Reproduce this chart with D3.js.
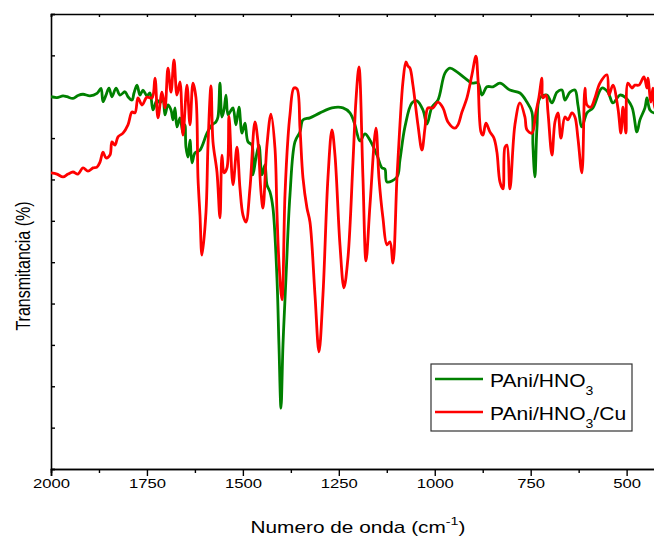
<!DOCTYPE html>
<html>
<head>
<meta charset="utf-8">
<script src="https://cdn.jsdelivr.net/npm/d3@7"></script>
<style>
  body { margin: 0; background: #fff; }
  svg { display: block; }
  text { font-family: "Liberation Sans", Arial, sans-serif; fill: #000; }
</style>
</head>
<body>
<div id="chart"></div>
<script>
// FTIR spectra, wavenumber (cm-1) vs transmittance (arbitrary %)

var xMajorTicks = [2000, 1750, 1500, 1250, 1000, 750, 500];
var xMinorTicks = [1875, 1625, 1375, 1125, 875, 625];
var yTicks = [0, 10, 20, 30, 40, 50, 60, 70, 80, 90, 100, 110];

var seriesNames = ["PAni/HNO", "PAni/HNO"];

// PAni/HNO3
var greenData = [
  [2000, 90.0], [1984.4, 89.8], [1968.7, 90.2], [1958.3, 90.0], [1942.7, 89.6], [1929.7, 90.3],
  [1916.6, 90.6], [1898.4, 90.2], [1880.2, 90.8], [1869.7, 92.0], [1864.5, 88.8], [1856.7, 90.4],
  [1848.9, 92.1], [1841.1, 90.0], [1830.6, 92.1], [1820.2, 90.4], [1807.2, 91.2], [1799.4, 90.0],
  [1788.9, 89.2], [1783.7, 90.9], [1775.9, 92.8], [1768.1, 90.4], [1760.3, 91.6], [1749.9, 90.2],
  [1742.1, 90.9], [1734.2, 86.8], [1723.8, 89.2], [1716.0, 88.5], [1708.2, 89.7], [1703.0, 85.6],
  [1695.2, 88.0], [1687.3, 86.8], [1682.1, 84.4], [1676.9, 87.3], [1671.7, 82.7], [1663.9, 84.9],
  [1656.1, 81.2], [1650.9, 83.2], [1648.3, 77.8], [1643.0, 75.4], [1637.8, 79.5], [1632.6, 74.0],
  [1624.8, 76.4], [1611.8, 77.1], [1593.5, 81.2], [1580.5, 83.2], [1570.1, 83.9], [1564.9, 85.1],
  [1559.7, 93.3], [1554.5, 85.1], [1549.2, 86.8], [1544.0, 90.4], [1538.8, 85.6], [1533.6, 86.3],
  [1525.8, 87.3], [1518.0, 83.2], [1510.2, 87.5], [1502.3, 81.2], [1494.5, 83.6], [1486.7, 79.1],
  [1476.3, 78.3], [1473.7, 71.1], [1465.9, 75.2], [1458.1, 78.3], [1450.2, 71.1], [1442.4, 73.5],
  [1437.2, 68.7], [1429.4, 67.0], [1421.6, 63.1], [1411.2, 46.2], [1406.0, 30.0], [1400.7, 14.7],
  [1395.5, 30.0], [1387.7, 46.2], [1377.3, 66.2], [1364.3, 79.1], [1351.2, 81.5], [1343.4, 84.4],
  [1325.2, 84.9], [1299.1, 86.1], [1267.9, 87.3], [1239.2, 87.3], [1221.0, 86.1], [1207.9, 83.2],
  [1202.7, 81.2], [1194.9, 79.3], [1181.8, 81.0], [1168.8, 79.5], [1150.6, 75.9], [1137.6, 72.8],
  [1129.8, 72.5], [1124.5, 69.4], [1098.5, 70.6], [1090.7, 74.7], [1077.7, 82.7], [1059.4, 88.5],
  [1046.4, 89.0], [1030.7, 86.8], [1020.3, 83.4], [1007.3, 87.5], [991.7, 89.2], [973.4, 95.7],
  [960.4, 96.9], [942.2, 96.0], [921.3, 94.5], [903.1, 93.3], [887.5, 93.3], [877.0, 90.4],
  [864.0, 92.4], [848.4, 92.4], [830.1, 93.3], [804.1, 91.6], [778.0, 90.9], [759.8, 88.7],
  [746.8, 86.3], [744.2, 78.3], [739.0, 70.6], [733.7, 82.4], [725.9, 89.7], [707.7, 90.4],
  [694.6, 88.5], [681.6, 91.1], [668.6, 91.6], [660.8, 89.2], [647.7, 91.1], [634.7, 91.6],
  [626.9, 88.0], [616.5, 82.7], [603.4, 86.1], [587.8, 87.3], [564.4, 92.1], [548.7, 91.1],
  [535.7, 88.5], [517.5, 90.4], [504.4, 89.9], [486.2, 87.5], [473.1, 81.5], [465.3, 84.4],
  [452.3, 87.3], [447.1, 89.7], [439.3, 86.8], [428.9, 86.1], [413.2, 86.8], [400, 87.3]
];

// PAni/HNO3/Cu
var redData = [
  [2000, 71.6], [1984.4, 71.3], [1968.7, 70.6], [1955.7, 71.3], [1942.7, 71.8], [1929.7, 71.3],
  [1916.6, 72.8], [1903.6, 72.0], [1890.6, 72.8], [1880.2, 73.0], [1872.3, 74.2], [1864.5, 76.6],
  [1856.7, 75.2], [1846.3, 75.9], [1841.1, 79.1], [1833.2, 78.3], [1825.4, 80.3], [1812.4, 81.2],
  [1799.4, 83.2], [1788.9, 86.3], [1781.1, 86.1], [1773.3, 89.7], [1762.9, 88.0], [1749.9, 89.9],
  [1736.8, 89.7], [1729.0, 94.5], [1721.2, 84.9], [1710.8, 91.1], [1703.0, 87.3], [1695.2, 96.9],
  [1687.3, 91.1], [1679.5, 98.9], [1671.7, 90.4], [1663.9, 93.6], [1656.1, 80.7], [1645.7, 92.8],
  [1637.8, 83.2], [1630.0, 93.3], [1622.2, 89.7], [1617.0, 70.4], [1611.8, 61.4], [1606.6, 51.7],
  [1596.1, 62.1], [1590.9, 78.3], [1583.1, 92.6], [1577.9, 79.1], [1567.5, 71.8], [1559.7, 60.7],
  [1554.5, 75.9], [1549.2, 71.6], [1541.4, 72.8], [1536.2, 85.3], [1525.8, 68.7], [1515.4, 77.8],
  [1507.6, 67.9], [1499.7, 61.4], [1491.9, 59.7], [1481.5, 67.9], [1468.5, 83.9], [1460.7, 79.1],
  [1452.8, 67.0], [1447.6, 63.1], [1437.2, 78.3], [1426.8, 85.8], [1416.4, 77.6], [1411.2, 62.1],
  [1406.0, 50.0], [1398.1, 40.9], [1390.3, 66.2], [1382.5, 80.0], [1377.3, 85.6], [1366.9, 92.1],
  [1359.0, 91.9], [1351.2, 82.4], [1343.4, 70.4], [1333.0, 63.1], [1325.2, 59.7], [1312.1, 42.1],
  [1301.7, 28.3], [1291.3, 42.1], [1278.3, 70.4], [1267.9, 82.0], [1260.0, 75.9], [1247.0, 54.2],
  [1236.6, 43.8], [1226.2, 51.0], [1213.1, 74.2], [1205.3, 89.2], [1197.5, 97.2], [1187.1, 70.4],
  [1179.2, 50.3], [1168.8, 63.8], [1153.2, 82.4], [1145.4, 70.4], [1135.0, 60.7], [1124.5, 54.2],
  [1116.7, 54.9], [1108.9, 49.8], [1098.5, 70.4], [1090.7, 83.2], [1082.9, 93.6], [1075.0, 98.4],
  [1069.8, 97.4], [1064.6, 96.9], [1056.8, 92.8], [1043.8, 83.2], [1033.4, 77.1], [1025.5, 82.4],
  [1017.7, 87.3], [1004.7, 87.3], [991.7, 88.7], [978.6, 87.3], [965.6, 83.9], [947.4, 82.4],
  [939.6, 83.2], [929.1, 86.3], [916.1, 89.7], [903.1, 95.3], [892.7, 99.8], [887.5, 94.5],
  [879.6, 81.5], [874.4, 80.7], [866.6, 83.6], [856.2, 81.5], [845.8, 80.0], [838.0, 76.6],
  [830.1, 69.4], [822.3, 67.7], [817.1, 77.8], [811.9, 78.3], [804.1, 67.7], [791.1, 83.2],
  [778.0, 88.5], [765.0, 85.1], [759.8, 82.0], [746.8, 81.2], [736.3, 86.3], [728.5, 89.9],
  [720.7, 94.5], [718.1, 89.7], [710.3, 90.4], [705.0, 86.3], [694.6, 75.9], [686.8, 83.9],
  [679.0, 86.1], [671.2, 80.0], [660.8, 85.1], [653.0, 84.4], [642.5, 86.1], [634.7, 85.1],
  [626.9, 80.0], [616.5, 71.6], [608.6, 92.1], [603.4, 88.0], [593.0, 87.5], [582.6, 89.7],
  [569.6, 93.3], [551.3, 95.3], [546.1, 90.4], [535.7, 92.8], [522.7, 87.3], [514.9, 81.2],
  [509.6, 87.5], [501.8, 81.2], [496.6, 93.3], [486.2, 92.1], [478.4, 92.8], [467.9, 92.8],
  [454.9, 94.8], [447.1, 92.1], [444.5, 94.5], [436.7, 88.7], [431.5, 92.1], [423.7, 86.8],
  [400, 88.0]
];

var svgWidth = 654;
var svgHeight = 539;

var margin = { top: 14, left: 51 };
var width = 614;   // runs past the right edge, like the original crop
var height = 455;

var svg = d3.select("#chart")
  .append("svg")
  .attr("width", svgWidth)
  .attr("height", svgHeight);

var chartGroup = svg.append("g")
  .attr("transform", `translate(${margin.left}, ${margin.top})`);

var xScale = d3.scaleLinear().domain([2000, 400]).range([0, width]);
var yScale = d3.scaleLinear().domain([0, 110]).range([height, 0]);

svg.append("defs").append("clipPath")
  .attr("id", "plotClip")
  .append("rect")
  .attr("width", width)
  .attr("height", height);

// bottom axis, major with labels
var bottomMajor = chartGroup.append("g")
  .attr("transform", `translate(0, ${height})`)
  .call(d3.axisBottom(xScale).tickValues(xMajorTicks).tickSize(7).tickPadding(5).tickFormat(d3.format("d")));

bottomMajor.selectAll("text")
  .attr("font-size", 13)
  .attr("dy", "0.71em")
  .attr("y", 10)
  .attr("transform", "scale(1.28,1)");

// bottom minor ticks
chartGroup.append("g")
  .attr("transform", `translate(0, ${height})`)
  .call(d3.axisBottom(xScale).tickValues(xMinorTicks).tickSize(4).tickFormat(""));

// top border with inward ticks
chartGroup.append("g")
  .call(d3.axisTop(xScale).tickValues(xMajorTicks.concat(xMinorTicks)).tickSize(-3).tickFormat(""));

// left axis, ticks inward, no labels
chartGroup.append("g")
  .call(d3.axisLeft(yScale).tickValues(yTicks).tickSize(-4).tickFormat(""));

chartGroup.selectAll(".domain")
  .attr("stroke", "#000")
  .attr("stroke-width", 1.6);
chartGroup.selectAll(".tick line")
  .attr("stroke", "#000")
  .attr("stroke-width", 1.4);

// spectra, smoothed a little like the instrument trace
var line = d3.line()
  .x(d => xScale(d[0]))
  .y(d => yScale(d[1]))
  .curve(d3.curveCatmullRom.alpha(0.5));

var lines = chartGroup.append("g").attr("clip-path", "url(#plotClip)");

lines.append("path")
  .datum(greenData)
  .attr("d", line)
  .attr("fill", "none")
  .attr("stroke", "#008000")
  .attr("stroke-width", 2.8)
  .attr("stroke-linejoin", "round");

lines.append("path")
  .datum(redData)
  .attr("d", line)
  .attr("fill", "none")
  .attr("stroke", "#ff0000")
  .attr("stroke-width", 2.8)
  .attr("stroke-linejoin", "round");

// axis titles
var xTitle = svg.append("text")
  .attr("transform", "translate(358, 533) scale(1.3,1)")
  .attr("text-anchor", "middle")
  .attr("font-size", 16);
xTitle.append("tspan").text("Numero de onda (cm");
xTitle.append("tspan").attr("font-size", 11).attr("dy", -8).text("-1");
xTitle.append("tspan").attr("dy", 8).text(")");

svg.append("text")
  .attr("transform", "translate(30, 266) rotate(-90) scale(1,1.3)")
  .attr("text-anchor", "middle")
  .attr("font-size", 16)
  .text("Transmitancia (%)");

// legend
var legend = svg.append("g");

legend.append("rect")
  .attr("x", 431)
  .attr("y", 364)
  .attr("width", 201)
  .attr("height", 67)
  .attr("fill", "#fff")
  .attr("stroke", "#333")
  .attr("stroke-width", 1.2);

var legendItems = [
  { color: "#008000", y: 379, suffix: "" },
  { color: "#ff0000", y: 412, suffix: "/Cu" }
];

legendItems.forEach(function(item, i) {
  legend.append("line")
    .attr("x1", 435).attr("x2", 483)
    .attr("y1", item.y).attr("y2", item.y)
    .attr("stroke", item.color)
    .attr("stroke-width", 2.4);

  var t = legend.append("text")
    .attr("transform", `translate(490, ${item.y + 8}) scale(1.17,1)`)
    .attr("font-size", 18);
  t.append("tspan").text(seriesNames[i]);
  t.append("tspan").attr("font-size", 12).attr("dy", 8).text("3");
  if (item.suffix) {
    t.append("tspan").attr("dy", -8).text(item.suffix);
  }
});
</script>
</body>
</html>
